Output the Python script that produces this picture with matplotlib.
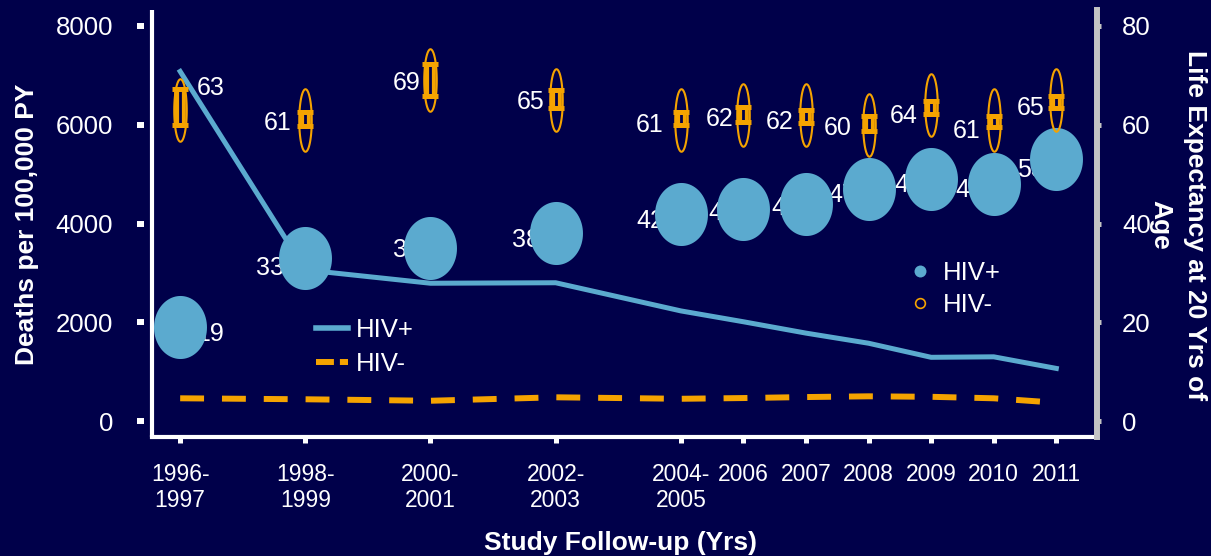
import numpy as np
import matplotlib
matplotlib.use("Agg")
import matplotlib.pyplot as plt
from matplotlib.path import Path
from matplotlib.lines import Line2D

plt.rcParams["font.family"] = ["Liberation Sans", "DejaVu Sans"]

# ---- data -------------------------------------------------------------
categories = ["1996-\n1997", "1998-\n1999", "2000-\n2001", "2002-\n2003",
              "2004-\n2005", "2006", "2007", "2008", "2009", "2010", "2011"]

# mortality, deaths per 100,000 person-years
deaths_hiv_pos = [7080, 3060, 2790, 2800, 2230, 2010, 1780, 1575, 1290, 1300, 1065]
deaths_hiv_neg = [460, 440, 410, 480, 450, 465, 485, 500, 490, 460, 370]

# life expectancy at age 20 (years)
le_hiv_pos = [19, 33, 35, 38, 42, 43, 44, 47, 49, 48, 53]
le_hiv_neg = [63, 61, 69, 65, 61, 62, 62, 60, 64, 61, 65]
le_hiv_neg_lo = [59.9, 59.7, 65.8, 63.3, 60.0, 60.6, 60.3, 58.8, 62.1, 59.5, 63.4]
le_hiv_neg_hi = [67.2, 62.5, 72.3, 67.1, 62.6, 63.5, 63.0, 61.8, 64.8, 61.8, 65.8]

left_ticks = [0, 2000, 4000, 6000, 8000]
right_ticks = [0, 20, 40, 60, 80]

# ---- layout / style ---------------------------------------------------
BG = "#00004A"
BLUE = "#5BAACF"
ORANGE = "#F5A300"
GREY = "#C4C4C4"

# label nudges in pixels (x, y-up); first label of each series sits right
pos_label_dx = [16, -21, -10, -16, -17, -7, -7, -12, -9, -10, -11]
pos_label_dy = [-7, -10, -2, -7, -7, -4, -4, -6, -6, -6, -11]
neg_label_dx = [17, -14, -10, -11, -17, -10, -12, -17, -14, -13, -12]
neg_label_dy = [22, -3, -3, -2, -5, -4, -7, -3, -11, -11, -8]

# category spacing: two-year periods take two slots, single years one
spans = np.array([2 if "-" in c else 1 for c in categories])
x = np.cumsum(spans) - spans[0]

le_neg = np.array(le_hiv_neg, dtype=float)
yerr = [le_neg - np.array(le_hiv_neg_lo), np.array(le_hiv_neg_hi) - le_neg]


def ellipse_marker(rx):
    t = np.linspace(0, 2 * np.pi, 80)
    return Path(np.column_stack([rx * np.cos(t), np.sin(t)]), closed=True)


W, H = 1211, 556
fig = plt.figure(figsize=(W / 100, H / 100), dpi=100, facecolor=BG)
ax = fig.add_axes([152 / W, 119 / H, 945 / W, 427 / H])
ax.set_facecolor(BG)

ax.set_xlim(x[0] - 0.45, x[-1] + 0.65)
ax.set_ylim(-324, 8324)

# left axis: detached tick marks, separate white axis line
for s in ["top", "right"]:
    ax.spines[s].set_visible(False)
ax.spines["left"].set_position(("outward", 6))
ax.spines["left"].set_color("none")
ax.plot([0, 0], [0, 1], transform=ax.transAxes, color="white", lw=3,
        clip_on=False, solid_capstyle="butt", zorder=5)
ax.spines["bottom"].set_color("white")
ax.spines["bottom"].set_linewidth(3)

ax.set_yticks(left_ticks)
ax.tick_params(axis="y", colors="white", length=5, width=4.3, pad=17,
               labelsize=18.5)
ax.set_xticks(x)
ax.set_xticklabels(categories)
ax.tick_params(axis="x", colors="white", length=4.5, width=3.6, pad=14,
               labelsize=16.5)

# mortality lines
ax.plot(x, deaths_hiv_pos, color=BLUE, lw=3.6, zorder=2)
ax.plot(x, deaths_hiv_neg, color=ORANGE, lw=4.3, dashes=(4.0, 3.0), zorder=2)

line_handles = [Line2D([], [], color=BLUE, lw=4),
                Line2D([], [], color=ORANGE, lw=4.3, dashes=(3.0, 1.0, 1.5, 20))]
ax.legend(line_handles, ["HIV+", "HIV-"], loc="upper left",
          bbox_to_anchor=(316 / W, 1 - 318 / H),
          bbox_transform=fig.transFigure, frameon=False,
          fontsize=18.5, labelcolor="white", borderpad=0,
          borderaxespad=0, handlelength=1.24, handletextpad=0.3,
          labelspacing=0.38)

# right axis: life expectancy
ax2 = ax.twinx()
ax2.set_ylim(-3.24, 83.24)
for s in ["top", "left", "bottom"]:
    ax2.spines[s].set_visible(False)
ax2.spines["right"].set_color(GREY)
ax2.spines["right"].set_linewidth(4.3)
ax2.set_yticks(right_ticks)
ax2.tick_params(axis="y", colors=GREY, labelcolor="white", length=3,
                width=3.6, pad=15, labelsize=18.5)

# value labels (drawn first so the HIV+ ellipses sit on top)
for i, (xi, v) in enumerate(zip(x, le_hiv_pos)):
    ax2.annotate(str(v), (xi, v), xytext=(pos_label_dx[i], pos_label_dy[i]),
                 textcoords="offset pixels",
                 ha="left" if pos_label_dx[i] > 0 else "right",
                 va="center", color="white", fontsize=18, zorder=2)
for i, (xi, v) in enumerate(zip(x, le_hiv_neg)):
    ax2.annotate(str(v), (xi, v), xytext=(neg_label_dx[i], neg_label_dy[i]),
                 textcoords="offset pixels",
                 ha="left" if neg_label_dx[i] > 0 else "right",
                 va="center", color="white", fontsize=18, zorder=2)

ax2.plot(x, le_hiv_pos, ls="none", marker=ellipse_marker(0.84), ms=45.4,
         mfc=BLUE, mec="none", zorder=3)

ax2.plot(x, le_hiv_neg, ls="none", marker=ellipse_marker(0.2), ms=45,
         mfc="none", mec=ORANGE, mew=1.5, zorder=4)
eb = ax2.errorbar(x, le_neg, yerr=yerr, fmt="none", ecolor=ORANGE,
                  elinewidth=8.4, capsize=5.8, capthick=3.6, zorder=4)
ax2.vlines(x, le_hiv_neg_lo, le_hiv_neg_hi, color=BG, lw=2, zorder=4.5)
for cap in eb[1]:
    cap.set_zorder(5)

marker_handles = [
    Line2D([], [], ls="none", marker="o", ms=8.6, mfc=BLUE, mec="none"),
    Line2D([], [], ls="none", marker="o", ms=7, mfc="none", mec=ORANGE, mew=1.2),
]
ax2.legend(marker_handles, ["HIV+", "HIV-"], loc="upper left",
           bbox_to_anchor=(910 / W, 1 - 261 / H),
           bbox_transform=fig.transFigure, frameon=False, fontsize=18.5,
           labelcolor="white", borderpad=0, borderaxespad=0,
           handlelength=0.8, handletextpad=0.47, labelspacing=0.3)

# axis titles
fig.text(27 / W, 1 - 224 / H, "Deaths per 100,000 PY", rotation=90,
         ha="center", va="center", color="white", fontsize=19,
         fontweight="bold")
fig.text(1207 / W, 1 - 225 / H, "Life Expectancy at 20 Yrs of\nAge",
         rotation=270, ha="right", va="center", multialignment="center",
         linespacing=1.55, color="white", fontsize=19, fontweight="bold")
fig.text(621 / W, 1 - 543 / H, "Study Follow-up (Yrs)", ha="center",
         va="center", color="white", fontsize=19, fontweight="bold")

fig.savefig("out.png", dpi=100, facecolor=BG)
